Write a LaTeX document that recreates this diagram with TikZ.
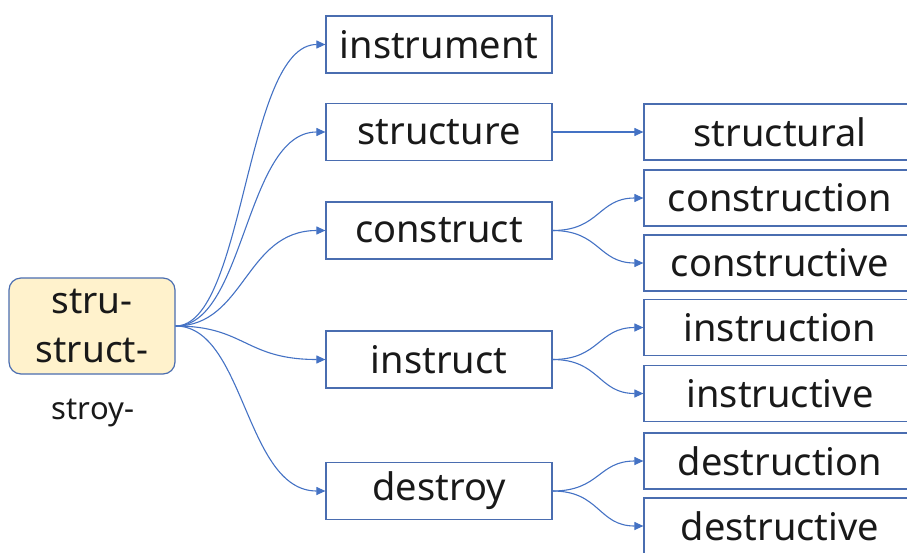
\documentclass[tikz,border=0pt]{standalone}
\usepackage{fontspec}
\setmainfont{Noto Sans}
\usetikzlibrary{arrows.meta}
\definecolor{lnblue}{HTML}{4472C4}
\definecolor{bxblue}{HTML}{4A6DB0}
\definecolor{rootfill}{HTML}{FFF2CC}
\begin{document}
\begin{tikzpicture}[x=1pt,y=-1pt,
  word/.style={draw=bxblue,line width=1.2pt,rectangle,inner sep=0pt,
    font=\fontsize{38}{44}\selectfont,text=black!90},
  mid/.style={word,minimum width=226pt,minimum height=57pt},
  leaf/.style={word,minimum width=272pt,minimum height=56pt},
  link/.style={draw=lnblue,line width=1.1pt,-{Triangle[length=9pt,width=8pt]}}
]
\useasboundingbox (0,0) rectangle (907,552);
% root
\node[draw=bxblue,fill=rootfill,line width=1.2pt,rounded corners=12pt,
  minimum width=166pt,minimum height=96pt,align=center,inner sep=0pt,
  font=\fontsize{37}{49}\selectfont,text=black!90] (root) at (92,326) {stru-\\struct-};
\node[font=\fontsize{31}{36}\selectfont,text=black!90] (stroy) at (93,413) {stroy-};
% middle column
\node[mid] (instrument) at (439,44.5) {instrument};
\node[mid] (structure) at (439,132) {structure};
\node[mid] (construct) at (439,230.5) {construct};
\node[mid] (instruct) at (439,359.5) {instruct};
\node[mid] (destroy) at (439,491) {destroy};
% right column
\node[leaf] (structural) at (780,132) {structural};
\node[leaf] (construction) at (780,198) {construction};
\node[leaf] (constructive) at (780,263) {constructive};
\node[leaf] (instruction) at (780,327.5) {instruction};
\node[leaf] (instructive) at (780,393.5) {instructive};
\node[leaf] (destruction) at (780,461) {destruction};
\node[leaf] (destructive) at (780,526) {destructive};
% connectors from root
\coordinate (r) at (root.east);
\draw[link] (r) .. controls (245,326) and (245,44.5) .. (instrument.west);
\draw[link] (r) .. controls (245,326) and (245,132) .. (structure.west);
\draw[link] (r) .. controls (245,326) and (245,230.5) .. (construct.west);
\draw[link] (r) .. controls (245,326) and (245,359.5) .. (instruct.west);
\draw[link] (r) .. controls (245,326) and (245,491) .. (destroy.west);
% second level
\draw[link] (structure.east) -- (structural.west);
\draw[link] (construct.east) .. controls (600,230.5) and (598,198) .. (construction.west);
\draw[link] (construct.east) .. controls (600,230.5) and (598,263) .. (constructive.west);
\draw[link] (instruct.east) .. controls (600,359.5) and (598,327.5) .. (instruction.west);
\draw[link] (instruct.east) .. controls (600,359.5) and (598,393.5) .. (instructive.west);
\draw[link] (destroy.east) .. controls (600,491) and (598,461) .. (destruction.west);
\draw[link] (destroy.east) .. controls (600,491) and (598,526) .. (destructive.west);
\end{tikzpicture}
\end{document}
